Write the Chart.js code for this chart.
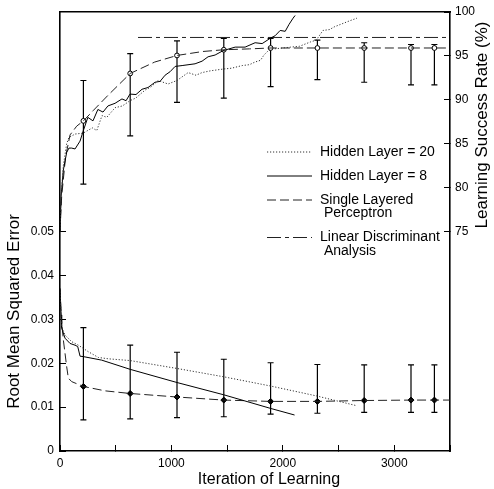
<!DOCTYPE html>
<html>
<head>
<meta charset="utf-8">
<script src="https://cdn.jsdelivr.net/npm/chart.js@4/dist/chart.umd.min.js"></script>
<style>
html,body{margin:0;padding:0;background:#fff;}
#wrap{width:494px;height:489px;}
</style>
</head>
<body>
<div id="wrap"><canvas id="c" width="494" height="489"></canvas></div>
<script>
// ---------- data ----------
const seriesNames = ['Hidden Layer = 20', 'Hidden Layer = 8', 'Single Layered\n Perceptron', 'Linear Discriminant\n Analysis'];

// Root mean squared error (left axis)
const h20RmseIter = [0,10,15,45,105,165,255,345,435,630,1050,1470,1890,2310,2665];
const h20RmseVal  = [0.037,0.031,0.0283,0.0264,0.0249,0.0241,0.0226,0.0213,0.0210,0.0206,0.0188,0.0169,0.0148,0.0125,0.0103];
const h8RmseIter  = [0,10,15,45,90,135,159,180,210,374,630,1050,1470,1890,2105];
const h8RmseVal   = [0.037,0.031,0.0280,0.0257,0.0245,0.0241,0.0238,0.0216,0.0215,0.0207,0.0186,0.0156,0.0128,0.0097,0.0082];
const slpRmseIter = [0,10,30,60,75,105,210,405,630,1050,1470,1890,2310,2730,3150,3360,3500];
const slpRmseVal  = [0.037,0.031,0.0253,0.0192,0.0166,0.0158,0.0147,0.0137,0.0131,0.0123,0.0116,0.0113,0.0113,0.0115,0.0116,0.0116,0.0116];

// Learning success rate in % (right axis)
const h20RateIter = [0,10,30,60,80,135,207,290,330,377,420,494,560,628,680,763,820,880,970,1050,1150,1220,1275,1350,1464,1540,1635,1700,1750,1800,1830,1870,1920,2000,2070,2150,2250,2300,2360,2420,2460,2520,2600,2665];
const h20RateVal  = [75,79,82.5,85,85.7,86.1,86.2,86.8,86.5,88.2,88.0,89.1,89.3,89.9,90.2,91.1,91.5,92.2,91.8,92.2,93.1,92.8,93.1,93.3,93.5,93.6,93.9,94.0,94.3,94.5,95.1,95.6,95.8,95.9,96.0,96.1,96.6,96.8,97.9,98.0,98.3,98.6,99.0,99.3];
const h8RateIter  = [0,10,30,60,80,105,135,180,207,250,296,340,386,430,494,556,593,628,682,736,790,853,898,943,988,1033,1096,1212,1275,1329,1392,1464,1572,1661,1751,1814,1886,1931,1976,2021,2056,2092,2110];
const h8RateVal   = [75,79,82,84,84.5,84.5,84.4,85.3,86.4,88.0,87.6,88.9,88.6,89.3,89.6,90.1,89.9,90.65,90.6,91.2,91.4,92.0,92.1,92.8,93.2,93.8,93.9,94.1,94.4,94.9,95.1,95.6,96.0,96.0,96.5,96.4,97.0,97.3,97.9,97.8,98.6,99.3,99.6];
const slpRateIter = [0,15,50,90,150,210,300,430,630,850,1050,1280,1470,1700,1890,2310,2730,3150,3360,3500];
const slpRateVal  = [75,79,83.5,86,87,87.6,88.8,90.5,93.0,94.3,95.05,95.5,95.7,95.8,95.9,95.9,95.9,95.9,95.9,95.9];
const ldaRateIter = [700,3500];
const ldaRateVal  = [97.1,97.1];

// Error bars of the single layered perceptron
const ebIter      = [210,630,1050,1470,1890,2310,2730,3150,3360];
const ebRateMean  = [87.6,93.0,95.05,95.7,95.9,95.9,95.9,95.9,95.9];
const ebRateLow   = [80.4,85.9,89.7,90.2,91.5,92.3,92.0,91.7,91.7];
const ebRateHigh  = [92.2,95.25,96.7,97.0,97.0,96.8,96.5,96.3,96.3];
const ebRmseMean  = [0.0147,0.0131,0.0123,0.0116,0.0113,0.0113,0.0115,0.0116,0.0116];
const ebRmseLow   = [0.0071,0.0073,0.0076,0.0078,0.0084,0.0086,0.0088,0.0088,0.0088];
const ebRmseHigh  = [0.0281,0.0241,0.0225,0.0209,0.0201,0.0197,0.0196,0.0196,0.0196];

// Axis titles
const xTitle = 'Iteration of Learning';
const yLeftTitle = 'Root Mean Squared Error';
const yRightTitle = 'Learning Success Rate (%)';

// ---------- helpers ----------
const pts = (xs, ys) => xs.map((x, i) => ({x: x, y: ys[i]}));

Chart.defaults.font.family = "'Liberation Sans', Arial, Helvetica, sans-serif";
Chart.defaults.color = '#000';

const dashes = {
  dotted: [1.2, 1.8],
  solid: [],
  dashed: [9, 4],
  dashdot: [14, 4, 4, 4]
};

function lineDs(label, data, axis, dash, color) {
  return {
    label: label, data: data, yAxisID: axis, borderColor: color || '#000',
    borderWidth: 1, borderDash: dash, pointRadius: 0, fill: false, tension: 0
  };
}

const datasets = [
  lineDs(seriesNames[0], pts(h20RmseIter, h20RmseVal), 'y', dashes.dotted, '#333'),
  lineDs(seriesNames[0], pts(h20RateIter, h20RateVal), 'y2', dashes.dotted, '#333'),
  lineDs(seriesNames[1], pts(h8RmseIter, h8RmseVal), 'y', dashes.solid),
  lineDs(seriesNames[1], pts(h8RateIter, h8RateVal), 'y2', dashes.solid),
  lineDs(seriesNames[2], pts(slpRmseIter, slpRmseVal), 'y', dashes.dashed, '#222'),
  lineDs(seriesNames[2], pts(slpRateIter, slpRateVal), 'y2', dashes.dashed, '#222'),
  lineDs(seriesNames[3], pts(ldaRateIter, ldaRateVal), 'y2', dashes.dashdot, '#222'),
  {
    label: 'SLP mean rate', data: pts(ebIter, ebRateMean), yAxisID: 'y2', showLine: false,
    pointStyle: 'circle', pointRadius: 2.4, pointBorderWidth: 1,
    pointBackgroundColor: '#fff', pointBorderColor: '#000'
  },
  {
    label: 'SLP mean RMSE', data: pts(ebIter, ebRmseMean), yAxisID: 'y', showLine: false,
    pointStyle: 'rectRot', pointRadius: 3, pointBorderWidth: 1,
    pointBackgroundColor: '#000', pointBorderColor: '#000'
  }
];

// error bars drawn through the scales
const errorBars = {
  id: 'errorBars',
  beforeDatasetsDraw(chart) {
    const {ctx, scales} = chart;
    const groups = [
      {axis: 'y2', lo: ebRateLow, hi: ebRateHigh},
      {axis: 'y', lo: ebRmseLow, hi: ebRmseHigh}
    ];
    ctx.save();
    ctx.strokeStyle = '#000';
    ctx.lineWidth = 1.2;
    groups.forEach(g => {
      const ys = scales[g.axis];
      ebIter.forEach((it, i) => {
        const px = scales.x.getPixelForValue(it);
        const pl = ys.getPixelForValue(g.lo[i]);
        const ph = ys.getPixelForValue(g.hi[i]);
        ctx.beginPath();
        ctx.moveTo(px, pl); ctx.lineTo(px, ph);
        ctx.moveTo(px - 3, pl); ctx.lineTo(px + 3, pl);
        ctx.moveTo(px - 3, ph); ctx.lineTo(px + 3, ph);
        ctx.stroke();
      });
    });
    ctx.restore();
  }
};

// legend inside the plot + axis titles
const legendAndTitles = {
  id: 'legendAndTitles',
  afterDraw(chart) {
    const {ctx, chartArea} = chart;
    const ca = chartArea;
    ctx.save();
    // legend
    const sampleX0 = ca.left + 207, sampleX1 = ca.left + 252, textX = ca.left + 260;
    let y = ca.top + 140;
    const legendDs = [datasets[1], datasets[3], datasets[5], datasets[6]];
    ctx.font = "14px 'Liberation Sans', Arial, sans-serif";
    ctx.fillStyle = '#000';
    ctx.textBaseline = 'middle';
    ctx.textAlign = 'left';
    legendDs.forEach((ds, i) => {
      ctx.beginPath();
      ctx.setLineDash(ds.borderDash);
      ctx.strokeStyle = ds.borderColor;
      ctx.lineWidth = 1;
      ctx.moveTo(sampleX0, y); ctx.lineTo(sampleX1, y);
      ctx.stroke();
      ctx.setLineDash([]);
      const lines = seriesNames[i].split('\n');
      lines.forEach((t, k) => ctx.fillText(t, textX, y + k * 13.5));
      y += 24 + (lines.length - 1) * 13.5;
    });
    // axis titles
    ctx.fillStyle = '#000';
    ctx.textAlign = 'center';
    ctx.textBaseline = 'middle';
    ctx.font = "16px 'Liberation Sans', Arial, sans-serif";
    ctx.fillText(xTitle, ca.left + 209, ca.bottom + 29);
    ctx.font = "17px 'Liberation Sans', Arial, sans-serif";
    ctx.save();
    ctx.translate(ca.left - 46, ca.bottom - 139.5);
    ctx.rotate(-Math.PI / 2);
    ctx.fillText(yLeftTitle, 0, 0);
    ctx.restore();
    ctx.save();
    ctx.translate(ca.right + 32, ca.top + 113);
    ctx.rotate(-Math.PI / 2);
    ctx.fillText(yRightTitle, 0, 0);
    ctx.restore();
    ctx.restore();
  }
};

const tickFont = {size: 12};

new Chart(document.getElementById('c'), {
  type: 'line',
  data: {datasets: datasets},
  plugins: [errorBars, legendAndTitles],
  options: {
    responsive: false,
    animation: false,
    devicePixelRatio: 1,
    layout: {padding: {top: 12, left: 0, right: 0, bottom: 0}},
    plugins: {legend: {display: false}, tooltip: {enabled: false}},
    scales: {
      x: {
        type: 'linear', position: 'bottom', min: 0, max: 3500,
        afterFit: s => { s.height = 38; s.paddingLeft = 0; s.paddingRight = 0; },
        ticks: {
          stepSize: 500, font: tickFont, padding: 11, maxRotation: 0, autoSkip: false,
          callback: v => (Math.round(v) % 1000 === 0 ? String(Math.round(v)) : '')
        },
        grid: {drawOnChartArea: false, tickLength: -6, color: '#000', lineWidth: 1},
        border: {display: true, color: '#000', width: 1.6}
      },
      xTop: {
        type: 'linear', position: 'top', min: 0, max: 3500,
        afterFit: s => { s.height = 0; s.paddingLeft = 0; s.paddingRight = 0; },
        ticks: {display: false},
        grid: {display: false},
        border: {display: true, color: '#000', width: 1.6}
      },
      y: {
        type: 'linear', position: 'left', min: 0, max: 0.1,
        afterFit: s => { s.width = 60; s.paddingTop = 0; s.paddingBottom = 0; },
        ticks: {
          stepSize: 0.01, font: tickFont, padding: 12, autoSkip: false,
          callback: v => {
            const k = Math.round(v * 100);
            if (k > 5) return '';
            return k === 0 ? '0' : (k / 100).toFixed(2);
          }
        },
        grid: {
          drawOnChartArea: false, tickLength: -6, lineWidth: 1,
          color: c => (c.tick && Math.round(c.tick.value * 100) <= 5 ? '#000' : 'rgba(0,0,0,0)')
        },
        border: {display: true, color: '#000', width: 1.6}
      },
      y2: {
        type: 'linear', position: 'right', min: 50, max: 100,
        afterFit: s => { s.width = 44; s.paddingTop = 0; s.paddingBottom = 0; },
        ticks: {
          stepSize: 5, font: tickFont, padding: 11, autoSkip: false,
          callback: v => (v >= 75 ? String(v) : '')
        },
        grid: {
          drawOnChartArea: false, tickLength: -6, lineWidth: 1,
          color: c => (c.tick && c.tick.value >= 75 ? '#000' : 'rgba(0,0,0,0)')
        },
        border: {display: true, color: '#000', width: 1.6}
      }
    }
  }
});
</script>
</body>
</html>
